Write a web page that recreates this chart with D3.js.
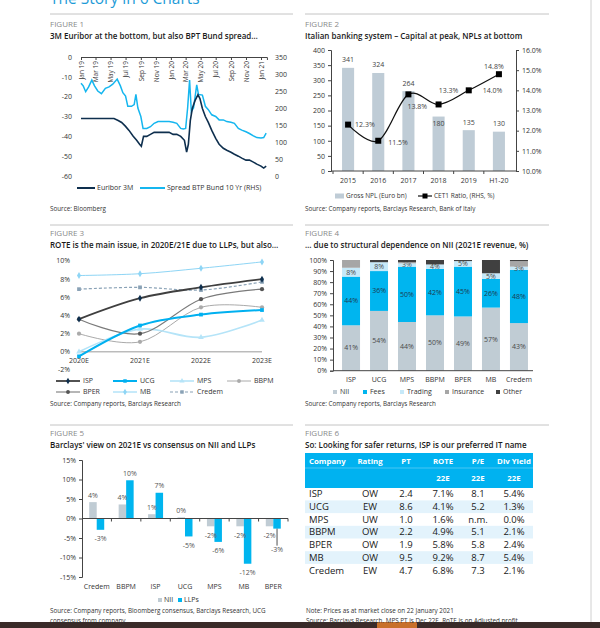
<!DOCTYPE html>
<html>
<head>
<meta charset="utf-8">
<script src="https://cdn.jsdelivr.net/npm/d3@7"></script>
<style>
  body { margin: 0; background: #fff; }
  svg { font-family: "Open Sans", sans-serif; }
</style>
</head>
<body>
<svg id="page" width="600" height="628"></svg>
<script>
// ---------- data ----------
// Figure 1: 3M Euribor (bp, LHS) and BTP-Bund 10Y spread (bp, RHS)
const euriborDates = ["2019-01-01","2019-01-15","2019-02-01","2019-02-15","2019-03-01","2019-03-15","2019-04-01","2019-04-15","2019-05-01","2019-05-15",
  "2019-06-01","2019-06-15","2019-07-01","2019-07-15","2019-08-01","2019-08-15","2019-08-27","2019-09-03","2019-09-12","2019-09-25",
  "2019-10-10","2019-10-25","2019-11-10","2019-11-25","2019-12-10","2019-12-25","2020-01-10","2020-01-25","2020-02-10","2020-02-25",
  "2020-03-05","2020-03-12","2020-03-20","2020-03-28","2020-04-08","2020-04-20","2020-04-28","2020-05-08","2020-05-20","2020-06-01",
  "2020-06-15","2020-07-01","2020-07-15","2020-08-01","2020-08-15","2020-09-01","2020-09-15","2020-10-01","2020-10-15","2020-11-01",
  "2020-11-15","2020-12-01","2020-12-15","2021-01-01","2021-01-12","2021-01-22"];
const euriborVals = [-31,-31,-31,-31,-31,-31,-31,-31,-31,-31,
  -32,-33,-35,-37,-40,-42,-44,-45,-40,-40,
  -39,-38,-38,-38,-38,-38,-39,-39,-40,-42,
  -48,-44,-32,-26,-22,-19,-21,-26,-30,-33,
  -37,-41,-44,-46,-47,-48,-49,-50,-51,-52,
  -52,-53,-54,-55,-56,-55];
const spreadDates = ["2019-01-01","2019-01-10","2019-01-20","2019-02-01","2019-02-14","2019-02-25","2019-03-10","2019-03-25","2019-04-10","2019-04-25",
  "2019-05-10","2019-05-28","2019-06-10","2019-06-20","2019-07-01","2019-07-10","2019-07-25","2019-08-05","2019-08-12","2019-08-20",
  "2019-09-01","2019-09-10","2019-09-25","2019-10-10","2019-10-25","2019-11-10","2019-11-25","2019-12-10","2019-12-25","2020-01-10",
  "2020-01-25","2020-02-10","2020-02-20","2020-03-01","2020-03-09","2020-03-17","2020-03-24","2020-04-02","2020-04-15","2020-04-22",
  "2020-05-08","2020-05-20","2020-06-01","2020-06-15","2020-07-01","2020-07-15","2020-08-01","2020-08-15","2020-09-01","2020-09-15",
  "2020-10-01","2020-10-15","2020-11-01","2020-11-15","2020-12-01","2020-12-15","2021-01-01","2021-01-12","2021-01-22"];
const spreadVals = [273,265,248,262,282,265,250,242,258,262,
  270,285,265,245,235,205,205,210,240,200,
  175,140,140,145,155,160,160,160,160,158,
  155,140,138,140,200,282,190,200,268,240,
  238,205,195,180,175,165,165,160,158,155,
  140,135,130,125,118,113,112,113,126];

// Figure 2
const nplYears = ["2015","2016","2017","2018","2019","H1-20"];
const grossNpl = [341, 324, 264, 180, 135, 130];
const cet1Ratio = [12.3, 11.5, 13.8, 13.3, 14.0, 14.8];

// Figure 3: ROTE (%)
const roteYears = ["2020E","2021E","2022E","2023E"];
const roteISP = [3.6, 5.9, 7.1, 8.0];
const roteUCG = [-0.5, 2.9, 4.1, 4.6];
const roteMPS = [0.0, 2.5, 1.6, 3.5];
const roteBBPM = [2.0, 1.1, 4.9, 4.9];
const roteBPER = [3.6, 2.0, 5.8, 6.9];
const roteMB = [8.4, 8.6, 9.2, 9.9];
const roteCredem = [6.9, 7.1, 6.8, 7.7];

// Figure 4: 2021E revenue mix (%)
const revBanks = ["ISP","UCG","MPS","BBPM","BPER","MB","Credem"];
const revNII = [41, 54, 44, 50, 49, 57, 43];
const revFees = [44, 36, 50, 42, 45, 26, 48];
const revTrading = [8, 8, 3, 4, 5, 5, 3];
const revInsurance = [7, 0, 1, 0, 0, 0, 5];
const revOther = [0, 2, 2, 4, 1, 12, 1];

// Figure 5: Barclays vs consensus (%)
const consBanks = ["Credem","BBPM","ISP","UCG","MPS","MB","BPER"];
const consNII = [4.2, 3.6, 1.1, 0.3, -2.0, -2.0, -2.0];
const consLLP = [-2.9, 9.8, 6.6, -4.6, -6.0, -11.6, -2.6];

// Figure 6: table
const tblCompany = ["ISP","UCG","MPS","BBPM","BPER","MB","Credem"];
const tblRating = ["OW","EW","UW","OW","OW","OW","EW"];
const tblPT = [2.4, 8.6, 1.0, 2.2, 1.9, 9.5, 4.7];
const tblROTE = [7.1, 4.1, 1.6, 4.9, 5.8, 9.2, 6.8];
const tblPE = [8.1, 5.2, null, 5.1, 5.8, 8.7, 7.3];
const tblDiv = [5.4, 1.3, 0.0, 2.1, 2.4, 5.4, 2.1];

// ---------- helpers ----------
const svg = d3.select("#page");
const FONT = "'Open Sans', sans-serif";
const parse = d3.timeParse("%Y-%m-%d");

function label(x, y, s, size, opt) {
  opt = opt || {};
  return svg.append("text")
    .attr("x", x).attr("y", y).attr("dy", "0.35em")
    .attr("font-size", size)
    .attr("fill", opt.fill || "#222")
    .attr("font-weight", opt.weight || 400)
    .attr("text-anchor", opt.anchor || "start")
    .text(s);
}
function hline(x1, x2, y, color, w) {
  svg.append("line").attr("x1", x1).attr("x2", x2).attr("y1", y).attr("y2", y)
    .attr("stroke", color).attr("stroke-width", w || 1);
}
function styleAxis(g, size) {
  g.attr("font-family", FONT).attr("font-size", size || 7);
  g.select(".domain").attr("stroke", "#444");
  g.selectAll(".tick line").attr("stroke", "#444");
  g.selectAll(".tick text").attr("fill", "#333");
}
function header(x, y, num, title) {
  label(x, y, "FIGURE " + num, 8, { fill: "#8a8a8a" });
  label(x, y + 12, title, 8, { fill: "#1a1a1a", weight: 600 });
}

// ---------- page frame ----------
label(50, -1, "The Story in 6 Charts", 15.5, { fill: "#1e9bd7" });
[14, 225, 425].forEach(y => { hline(50, 293, y, "#c4c4c4"); hline(305, 549, y, "#c4c4c4"); });
svg.append("line").attr("x1", 591).attr("x2", 591).attr("y1", 0).attr("y2", 622).attr("stroke", "#d0d0d0");
svg.append("rect").attr("x", 0).attr("y", 622).attr("width", 600).attr("height", 6).attr("fill", "#3a2b29");
svg.append("rect").attr("x", 377).attr("y", 622).attr("width", 40).attr("height", 6).attr("fill", "#c8702a");

// ================= FIGURE 1 =================
header(50, 24, 1, "3M Euribor at the bottom, but also BPT Bund spread…");
const f1Start = parse("2019-01-01"), f1End = parse("2021-01-25");
const x1 = d3.scaleTime().domain([f1Start, parse("2021-01-01")]).range([81, 261]);
const x1Axis = x1.copy().domain([f1Start, f1End]).range([81, x1(f1End)]);
const y1L = d3.scaleLinear().domain([-60, 0]).range([176, 57]);
const y1R = d3.scaleLinear().domain([0, 350]).range([176, 57]);

const g1x = svg.append("g").attr("transform", "translate(0,57)")
  .call(d3.axisBottom(x1Axis).ticks(d3.timeMonth.every(2)).tickSize(3).tickFormat(d3.timeFormat("%b %y")));
styleAxis(g1x, 6.5);
g1x.selectAll(".tick text").attr("transform", "rotate(-90)").attr("text-anchor", "end")
  .attr("x", -4).attr("y", 0).attr("dy", "0.35em");

const g1l = svg.append("g").attr("transform", "translate(74,0)")
  .call(d3.axisLeft(y1L).tickValues(d3.range(-60, 1, 10)).tickSize(0).tickPadding(2).tickFormat(d => String(d)));
styleAxis(g1l, 7); g1l.select(".domain").remove();
const g1r = svg.append("g").attr("transform", "translate(275,0)")
  .call(d3.axisRight(y1R).tickValues(d3.range(0, 351, 50)).tickSize(0).tickPadding(0));
styleAxis(g1r, 7); g1r.select(".domain").remove();

svg.append("path")
  .datum(spreadDates.map((d, i) => [parse(d), spreadVals[i]]))
  .attr("d", d3.line().x(d => x1(d[0])).y(d => y1R(d[1])))
  .attr("fill", "none").attr("stroke", "#15b6ef").attr("stroke-width", 1.5);
svg.append("path")
  .datum(euriborDates.map((d, i) => [parse(d), euriborVals[i]]))
  .attr("d", d3.line().x(d => x1(d[0])).y(d => y1L(d[1])))
  .attr("fill", "none").attr("stroke", "#0e2f4e").attr("stroke-width", 1.6);

// legend
hline(77, 95, 188, "#0e2f4e", 2);
label(97, 188, "Euribor 3M", 7, { fill: "#333" });
hline(140, 165, 188, "#15b6ef", 2);
label(167, 188, "Spread BTP Bund 10 Yr (RHS)", 7, { fill: "#333" });
label(50, 209, "Source: Bloomberg", 6.3, { fill: "#333" });

// ================= FIGURE 2 =================
header(305, 24, 2, "Italian banking system – Capital at peak, NPLs at bottom");
const x2 = d3.scaleBand().domain(nplYears).range([333, 514]).paddingInner(0.6).paddingOuter(0.3);
const y2L = d3.scaleLinear().domain([0, 400]).range([171, 50]);
const y2R = d3.scaleLinear().domain([10, 16]).range([171, 50]);

svg.append("g").selectAll("rect").data(grossNpl).enter().append("rect")
  .attr("x", (d, i) => x2(nplYears[i])).attr("y", d => y2L(d))
  .attr("width", x2.bandwidth()).attr("height", d => 171 - y2L(d))
  .attr("fill", "#bfccd6");

const g2l = svg.append("g").attr("transform", "translate(331,0)")
  .call(d3.axisLeft(y2L).tickValues(d3.range(0, 401, 50)).tickSize(3));
styleAxis(g2l, 7);
const g2r = svg.append("g").attr("transform", "translate(516,0)")
  .call(d3.axisRight(y2R).tickValues(d3.range(10, 16.1, 1)).tickSize(3).tickFormat(d => d.toFixed(1) + "%"));
styleAxis(g2r, 7);
hline(331, 516, 171, "#444");
nplYears.forEach((c, i) => {
  const bx = x2(c) - x2.step() * x2.paddingInner() / 2;
  svg.append("line").attr("x1", bx).attr("x2", bx).attr("y1", 171).attr("y2", 174).attr("stroke", "#444");
  label(x2(c) + x2.bandwidth() / 2, 181, c, 7, { anchor: "middle", fill: "#333" });
});
// bar values
grossNpl.forEach((v, i) => {
  const yy = i === 3 ? y2L(v) + 7 : y2L(v) - 8;
  label(x2(nplYears[i]) + x2.bandwidth() / 2, yy, String(v), 7, { anchor: "middle", fill: "#444" });
});
// CET1 line
const cx2 = c => x2(c) + x2.bandwidth() / 2;
svg.append("path")
  .datum(cet1Ratio)
  .attr("d", d3.line().curve(d3.curveCardinal.tension(0)).x((d, i) => cx2(nplYears[i])).y(d => y2R(d)))
  .attr("fill", "none").attr("stroke", "#111").attr("stroke-width", 1.2);
svg.append("g").selectAll("rect").data(cet1Ratio).enter().append("rect")
  .attr("x", (d, i) => cx2(nplYears[i]) - 3).attr("y", d => y2R(d) - 3)
  .attr("width", 6).attr("height", 6).attr("fill", "#000");
const cetLabelPos = [[7, 0, "start"], [10, 2, "start"], [-1, 12, "start"], [10, -14, "middle"], [14, 0, "start"], [-5, -8, "middle"]];
cet1Ratio.forEach((v, i) => {
  const p = cetLabelPos[i];
  label(cx2(nplYears[i]) + p[0], y2R(v) + p[1], v.toFixed(1) + "%", 7, { anchor: p[2], fill: "#444" });
});
// legend
svg.append("rect").attr("x", 335).attr("y", 193.5).attr("width", 9).attr("height", 5).attr("fill", "#bfccd6");
label(346, 196, "Gross NPL (Euro bn)", 6.5, { fill: "#333" });
hline(418, 432, 196, "#111", 1.2);
svg.append("rect").attr("x", 422.5).attr("y", 193.5).attr("width", 5).attr("height", 5).attr("fill", "#000");
label(434, 196, "CET1 Ratio, (RHS, %)", 6.5, { fill: "#333" });
label(305, 209, "Source: Company reports, Barclays Research, Bank of Italy", 6.3, { fill: "#333" });

// ================= FIGURE 3 =================
header(50, 233, 3, "ROTE is the main issue, in 2020E/21E due to LLPs, but also…");
const x3 = d3.scalePoint().domain(roteYears).range([79, 262]);
const y3 = d3.scaleLinear().domain([-2, 10]).range([370, 261]);
d3.range(-2, 10.1, 2).forEach(t => label(70, y3(t), t + "%", 7, { anchor: "end", fill: "#333" }));
hline(79, 262, y3(0), "#9a9a9a");
roteYears.forEach(c => label(x3(c), 361, c, 7, { anchor: "middle", fill: "#333" }));

const roteSeries = [
  { name: "MB", vals: roteMB, color: "#8ed5f5", w: 1, sym: d3.symbolDiamond, mfill: "#8ed5f5" },
  { name: "Credem", vals: roteCredem, color: "#8aa2b6", w: 1.2, sym: d3.symbolSquare, mfill: "#8aa2b6", dash: "3,2" },
  { name: "BBPM", vals: roteBBPM, color: "#aaaaaa", w: 1, sym: d3.symbolCircle, mfill: "#aaaaaa" },
  { name: "MPS", vals: roteMPS, color: "#b5e4f8", w: 1.6, sym: d3.symbolTriangle, mfill: "#b5e4f8" },
  { name: "BPER", vals: roteBPER, color: "#7a7a7a", w: 1.1, sym: d3.symbolCircle, mfill: "#555" },
  { name: "UCG", vals: roteUCG, color: "#00b0f0", w: 2, sym: d3.symbolSquare, mfill: "#00b0f0" },
  { name: "ISP", vals: roteISP, color: "#3f3f3f", w: 1.8, sym: d3.symbolDiamond, mfill: "#0e2f4e" }
];
const line3 = d3.line().curve(d3.curveCardinal.tension(0)).x((d, i) => x3(roteYears[i])).y(d => y3(d));
roteSeries.forEach(s => {
  svg.append("path").datum(s.vals).attr("d", line3)
    .attr("fill", "none").attr("stroke", s.color).attr("stroke-width", s.w)
    .attr("stroke-dasharray", s.dash || null);
  svg.append("g").selectAll("path").data(s.vals).enter().append("path")
    .attr("d", d3.symbol(s.sym, 14))
    .attr("transform", (d, i) => `translate(${x3(roteYears[i])},${y3(d)})`)
    .attr("fill", s.mfill);
});
// legend
const leg3 = [["ISP", 56, 381], ["UCG", 113, 381], ["MPS", 170, 381], ["BBPM", 227, 381],
              ["BPER", 56, 392], ["MB", 113, 392], ["Credem", 170, 392]];
leg3.forEach(l => {
  const s = roteSeries.find(r => r.name === l[0]);
  svg.append("line").attr("x1", l[1]).attr("x2", l[1] + 24).attr("y1", l[2]).attr("y2", l[2])
    .attr("stroke", s.color).attr("stroke-width", s.w).attr("stroke-dasharray", s.dash || null);
  svg.append("path").attr("d", d3.symbol(s.sym, 12)).attr("transform", `translate(${l[1] + 12},${l[2]})`).attr("fill", s.mfill);
  label(l[1] + 27, l[2], l[0], 7, { fill: "#333" });
});
label(50, 404, "Source: Company reports, Barclays Research", 6.3, { fill: "#333" });

// ================= FIGURE 4 =================
header(305, 233, 4, "… due to structural dependence on NII (2021E revenue, %)");
const revKeys = ["NII", "Fees", "Trading", "Insurance", "Other"];
const revColors = { NII: "#c0ccd4", Fees: "#00b5ef", Trading: "#c6e9f9", Insurance: "#a6a6a6", Other: "#404040" };
const revRows = revBanks.map((b, i) => ({ bank: b, NII: revNII[i], Fees: revFees[i], Trading: revTrading[i], Insurance: revInsurance[i], Other: revOther[i] }));
const x4 = d3.scaleBand().domain(revBanks).range([337, 533]).paddingInner(0.357).paddingOuter(0.18);
const y4 = d3.scaleLinear().domain([0, 100]).range([370.7, 260]);
const stack4 = d3.stack().keys(revKeys)(revRows);
stack4.forEach(layer => {
  svg.append("g").selectAll("rect").data(layer).enter().append("rect")
    .attr("x", d => x4(d.data.bank)).attr("width", x4.bandwidth())
    .attr("y", d => y4(d[1])).attr("height", d => y4(d[0]) - y4(d[1]))
    .attr("fill", revColors[layer.key]);
  if (["NII", "Fees", "Trading"].includes(layer.key)) {
    layer.forEach(d => {
      label(x4(d.data.bank) + x4.bandwidth() / 2, y4((d[0] + d[1]) / 2), (d[1] - d[0]) + "%", 7,
        { anchor: "middle", fill: layer.key === "Fees" ? "#1c3b52" : "#4a4a4a" });
    });
  }
});
const g4l = svg.append("g").attr("transform", "translate(333,0)")
  .call(d3.axisLeft(y4).tickValues(d3.range(0, 101, 10)).tickSize(3).tickFormat(d => d + "%"));
styleAxis(g4l, 7);
hline(333, 533, 370.7, "#444");
revBanks.forEach(b => label(x4(b) + x4.bandwidth() / 2, 380, b, 7, { anchor: "middle", fill: "#333" }));
const leg4 = [["NII", 335], ["Fees", 365], ["Trading", 402], ["Insurance", 447], ["Other", 498]];
leg4.forEach(l => {
  svg.append("rect").attr("x", l[1] - 2).attr("y", 390).attr("width", 4).attr("height", 4).attr("fill", revColors[l[0]]);
  label(l[1] + 5, 392, l[0], 7, { fill: "#333" });
});
label(305, 404, "Source: Company reports, Barclays Research", 6.3, { fill: "#333" });

// ================= FIGURE 5 =================
header(50, 433, 5, "Barclays' view on 2021E vs consensus on NII and LLPs");
const x5 = d3.scaleBand().domain(consBanks).range([82, 288]);
const y5 = d3.scaleLinear().domain([-15, 15]).range([577, 460]);
const bw5 = 7.5;
const g5l = svg.append("g").attr("transform", "translate(82,0)")
  .call(d3.axisLeft(y5).tickValues(d3.range(-15, 16, 5)).tickSize(3).tickFormat(d => d + "%"));
styleAxis(g5l, 7);
const bar5 = (vals, off, color) => svg.append("g").selectAll("rect").data(vals).enter().append("rect")
  .attr("x", (d, i) => x5(consBanks[i]) + x5.bandwidth() / 2 + off)
  .attr("y", d => y5(Math.max(0, d))).attr("width", bw5)
  .attr("height", d => Math.abs(y5(d) - y5(0)))
  .attr("fill", color);
bar5(consNII, -bw5, "#c0ccd4");
bar5(consLLP, 0, "#00b5ef");
hline(82, 288, y5(0), "#444");
consBanks.forEach((b, i) => {
  const bx = x5(b) + x5.bandwidth();
  svg.append("line").attr("x1", bx).attr("x2", bx).attr("y1", y5(0)).attr("y2", y5(0) + 3).attr("stroke", "#444");
  label(x5(b) + x5.bandwidth() / 2, 587, b, 7, { anchor: "middle", fill: "#333" });
});
const lbl5 = (vals, off, extra) => vals.forEach((v, i) => {
  const cx = x5(consBanks[i]) + x5.bandwidth() / 2 + off + bw5 / 2;
  let yy = v >= 0 ? y5(v) - 7 : y5(v) + 9;
  if (extra && extra[i]) {
    svg.append("line").attr("x1", cx).attr("x2", cx).attr("y1", y5(v)).attr("y2", y5(v) + extra[i] + 5)
      .attr("stroke", "#222").attr("stroke-width", 0.8);
    yy += extra[i];
  }
  label(cx, yy, Math.round(v) + "%", 7, { anchor: "middle", fill: "#555" });
});
lbl5(consNII, -bw5);
lbl5(consLLP, 0, [0, 0, 0, 0, 0, 0, 12]);
svg.append("rect").attr("x", 158).attr("y", 598).attr("width", 4).attr("height", 4).attr("fill", "#c0ccd4");
label(164, 600, "NII", 7, { fill: "#333" });
svg.append("rect").attr("x", 178).attr("y", 598).attr("width", 4).attr("height", 4).attr("fill", "#00b5ef");
label(184, 600, "LLPs", 7, { fill: "#333" });
label(50, 611, "Source: Company reports, Bloomberg consensus, Barclays Research, UCG", 6.3, { fill: "#333" });
label(50, 621, "consensus from company.", 6.3, { fill: "#333" });

// ================= FIGURE 6 =================
header(305, 433, 6, "So: Looking for safer returns, ISP is our preferred IT name");
svg.append("rect").attr("x", 305).attr("y", 453).attr("width", 228).attr("height", 35).attr("fill", "#00b2f0");
hline(305, 533, 468, "#5cccf5", 0.8);
const colX = [309, 370, 406, 443, 478, 514];
const colHead = ["Company", "Rating", "PT", "ROTE", "P/E", "Div Yield"];
colHead.forEach((h, i) => label(colX[i], 461, h, 7.8, { fill: "#fff", weight: 700, anchor: i === 0 ? "start" : "middle" }));
[3, 4, 5].forEach(i => label(colX[i], 478, "22E", 7.8, { fill: "#fff", weight: 700, anchor: "middle" }));
tblCompany.forEach((c, r) => {
  const ry = 494 + r * 12.7;
  if (r % 2 === 1) svg.append("rect").attr("x", 305).attr("y", ry - 6.3).attr("width", 228).attr("height", 12.7).attr("fill", "#e3f3fc");
  const cells = [c, tblRating[r], tblPT[r].toFixed(1), tblROTE[r].toFixed(1) + "%",
    tblPE[r] === null ? "n.m." : tblPE[r].toFixed(1), tblDiv[r].toFixed(1) + "%"];
  cells.forEach((s, i) => label(colX[i], ry, s, 9.5, { fill: "#1a1a1a", anchor: i === 0 ? "start" : "middle" }));
});
label(306, 611, "Note: Prices as at market close on 22 January 2021", 6.3, { fill: "#333" });
label(306, 621, "Source: Barclays Research. MPS PT is Dec 22E. RoTE is on Adjusted profit", 6.3, { fill: "#333" });
</script>
</body>
</html>
